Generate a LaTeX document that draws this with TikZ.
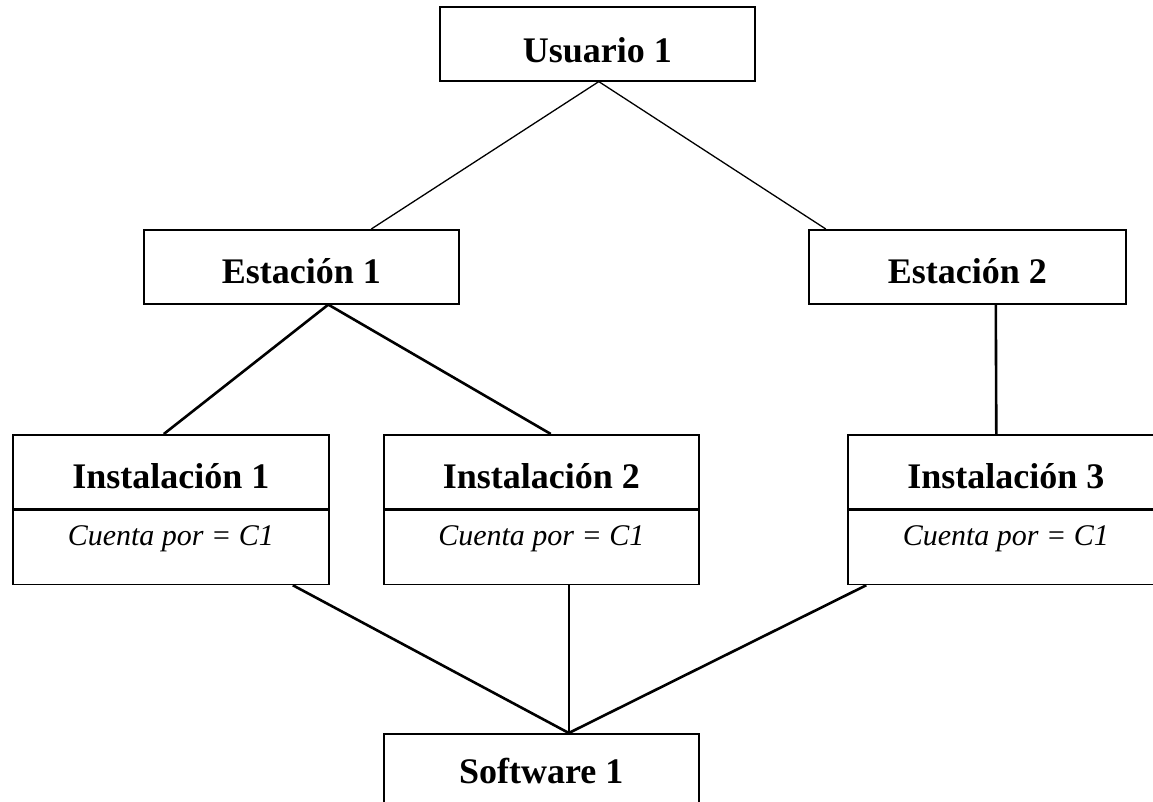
\documentclass[tikz,border=0pt]{standalone}
\usepackage{fontspec}
\setmainfont{Liberation Serif}
\begin{document}
\begin{tikzpicture}[x=1pt,y=-1pt,
  box/.style={draw, line width=1.6pt, inner sep=0pt, minimum width=315pt, anchor=north west,
    font=\fontsize{36}{40}\selectfont\bfseries},
  sub/.style={box, font=\fontsize{30}{34}\selectfont\itshape, text height=35pt, text depth=39pt},
  thinline/.style={line width=1.3pt},
  thickline/.style={line width=2.6pt}]
\useasboundingbox (0,0) rectangle (1153,801);
\clip (0,0) rectangle (1153,801);

\node[box, text height=56pt, text depth=18pt] (u1) at (439,6) {Usuario 1};
\node[box, text height=54pt, text depth=20pt] (e1) at (143,229) {Estación 1};
\node[box, text height=54pt, text depth=20pt, minimum width=317pt] (e2) at (808,229) {Estación 2};

\node[box, text height=54pt, text depth=20pt, minimum width=316pt] (i1t) at (12,434) {Instalación 1};
\node[sub, minimum width=316pt] (i1b) at (i1t.south west) {Cuenta por = C1};
\node[box, text height=54pt, text depth=20pt] (i2t) at (383,434) {Instalación 2};
\node[sub] (i2b) at (i2t.south west) {Cuenta por = C1};
\node[box, text height=54pt, text depth=20pt, minimum width=316pt] (i3t) at (847,434) {Instalación 3};
\node[sub, minimum width=316pt] (i3b) at (i3t.south west) {Cuenta por = C1};

\node[box, text height=50pt, text depth=40pt] (s1) at (383,733) {Software 1};

\draw[thinline] ([xshift=1.5pt]u1.south) -- ([xshift=70pt]e1.north);
\draw[thinline] ([xshift=1.5pt]u1.south) -- ([xshift=-141.5pt]e2.north);

\draw[thickline] ([xshift=27pt]e1.south) -- ([xshift=-7pt]i1t.north);
\draw[thickline] ([xshift=27pt]e1.south) -- ([xshift=9.5pt]i2t.north);
\draw[thickline] ([xshift=28.5pt]e2.south) -- ([xshift=-9.5pt]i3t.north);

\draw[thickline] ([xshift=122pt]i1b.south) -- ([xshift=27.5pt]s1.north);
\draw[thickline] ([xshift=27.5pt]i2b.south) -- ([xshift=27.5pt]s1.north);
\draw[thickline] ([xshift=-139.5pt]i3b.south) -- ([xshift=27.5pt]s1.north);
\end{tikzpicture}
\end{document}
